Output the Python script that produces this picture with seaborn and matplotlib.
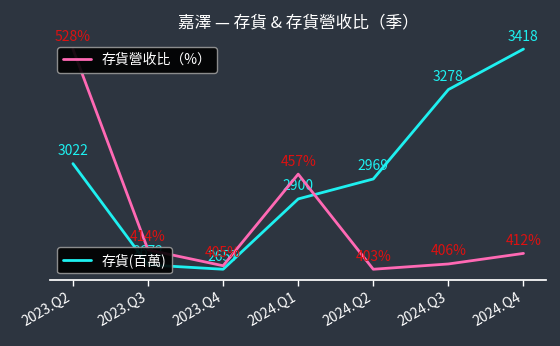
import matplotlib
matplotlib.use("Agg")
import matplotlib.pyplot as plt
import seaborn as sns
import pandas as pd

# data
quarters = ["2023.Q2", "2023.Q3", "2023.Q4", "2024.Q1", "2024.Q2", "2024.Q3", "2024.Q4"]
inventory = [3022, 2672, 2657, 2900, 2969, 3278, 3418]   # 存貨(百萬)
inv_ratio = [528, 414, 405, 457, 403, 406, 412]          # 存貨營收比(%)

bg = "#2d3540"
cyan = "#1ef0f0"
pink = "#ff69b4"

sns.set_theme(style="dark")
plt.rcParams["font.family"] = ["Noto Sans CJK TC", "DejaVu Sans"]

df = pd.DataFrame({"quarter": quarters, "inventory": inventory, "ratio": inv_ratio})
df["x"] = range(len(df))

fig, ax1 = plt.subplots(figsize=(5.6, 3.46), dpi=100)
fig.patch.set_facecolor(bg)
ax1.set_facecolor(bg)
ax2 = ax1.twinx()

sns.lineplot(data=df, x="x", y="inventory", ax=ax1, color=cyan, linewidth=2, label="存貨(百萬)", legend=False)
sns.lineplot(data=df, x="x", y="ratio", ax=ax2, color=pink, linewidth=2, label="存貨營收比(%)", legend=False)

for x, v in zip(df["x"], df["inventory"]):
    ax1.annotate(str(v), (x, v), xytext=(0, 4), textcoords="offset points",
                 ha="center", va="bottom", color=cyan, fontsize=10)
for x, v in zip(df["x"], df["ratio"]):
    ax2.annotate(f"{v}%", (x, v), xytext=(0, 4), textcoords="offset points",
                 ha="center", va="bottom", color="#dd1111", fontsize=10)

ax1.set_xticks(df["x"])
ax1.set_xticklabels(quarters, rotation=30, ha="right", color="white", fontsize=10)
ax1.tick_params(axis="x", colors="white", length=4, width=1, bottom=True)
ax1.set_yticks([])
ax2.set_yticks([])
ax1.set_xlabel("")
ax1.set_ylabel("")
ax2.set_ylabel("")
for a in (ax1, ax2):
    for side in ("top", "left", "right"):
        a.spines[side].set_visible(False)
    a.spines["bottom"].set_color("white")
ax2.spines["bottom"].set_visible(False)
ax1.grid(False)
ax2.grid(False)

ax1.set_title("嘉澤 — 存貨 & 存貨營收比（季）", color="white", fontsize=12, pad=8)

h1, l1 = ax1.get_legend_handles_labels()
h2, l2 = ax2.get_legend_handles_labels()
leg1 = ax2.legend(h2, ["存貨營收比（%）"], loc="upper left", bbox_to_anchor=(0.0, 0.99),
                  facecolor="black", edgecolor="#999999", labelcolor="white", fontsize=10, framealpha=0.9)
ax2.add_artist(leg1)
ax2.legend(h1, l1, loc="lower left", bbox_to_anchor=(0.0, 0.0),
           facecolor="black", edgecolor="#999999", labelcolor="white", fontsize=10, framealpha=0.9)

plt.subplots_adjust(left=0.09, right=0.975, top=0.89, bottom=0.19)
fig.savefig("out.png", dpi=100, facecolor=bg)
